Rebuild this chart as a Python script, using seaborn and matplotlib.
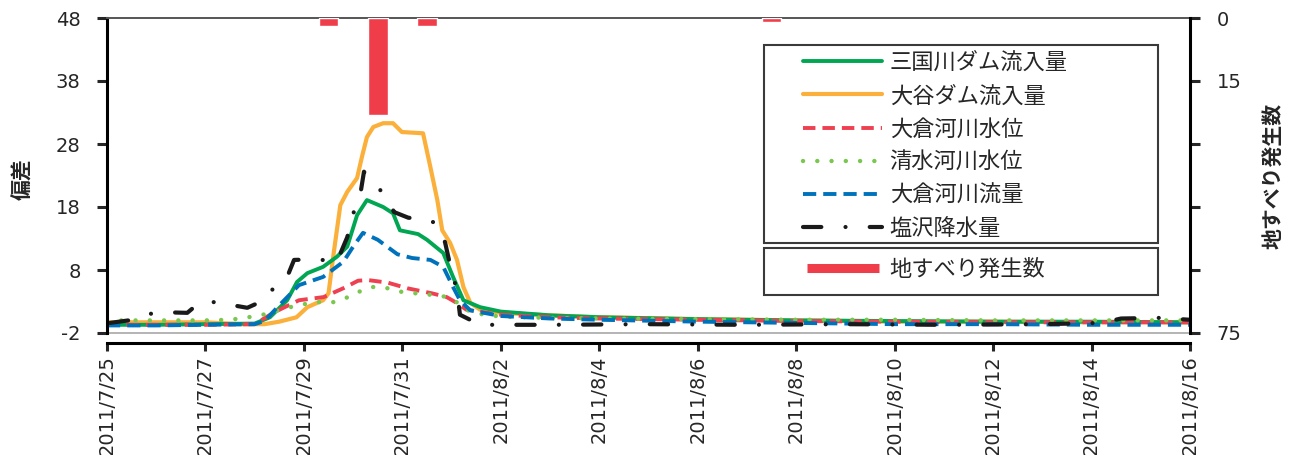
import pandas as pd
import seaborn as sns
import matplotlib.pyplot as plt
from matplotlib.lines import Line2D
from matplotlib.patches import Rectangle

# 期間: 2011/7/25 0:00 起点の経過日数
start = pd.Timestamp('2011-07-25')
n_days = 22

# 三国川ダム流入量 (偏差)
mikuni_days = [0, 1, 2, 3.0, 3.31, 3.66, 3.86, 4.07, 4.39, 4.67, 4.88, 5.08, 5.28, 5.61, 5.81, 5.95,
               6.32, 6.5, 6.83, 7.03, 7.24, 7.58, 8, 9, 10, 12, 14, 16, 18, 20, 22]
mikuni_vals = [-0.7, -0.7, -0.6, -0.5, 0.5, 3.2, 6.1, 7.5, 8.5, 10.1, 11.7, 16.7, 19.1, 18.0, 17.0, 14.3,
               13.7, 12.8, 10.7, 6.9, 3.2, 2.1, 1.4, 0.8, 0.5, 0.2, 0.0, -0.1, -0.2, -0.2, -0.3]

# 大谷ダム流入量
otani_days = [0, 1, 2, 2.7, 3.2, 3.5, 3.85, 4.07, 4.39, 4.5, 4.6, 4.74, 4.88, 5.08, 5.18, 5.28, 5.41,
              5.61, 5.81, 5.99, 6.42, 6.57, 6.71, 6.81, 6.97, 7.11, 7.24, 7.38, 7.58, 8, 9, 10, 12,
              14, 16, 18, 20, 22]
otani_vals = [-0.3, -0.3, -0.3, -0.6, -0.6, -0.2, 0.5, 2.1, 3.2, 4.3, 10.4, 18.3, 20.4, 22.6, 26.0, 29.1,
              30.7, 31.3, 31.3, 29.9, 29.7, 24.3, 19.1, 14.3, 12.3, 9.6, 5.3, 2.8, 1.7, 1.2, 0.8, 0.5,
              0.2, 0.0, -0.2, -0.2, -0.3, -0.3]

# 大倉河川水位
okura_lv_days = [0, 1, 2, 3.0, 3.4, 3.9, 4.4, 4.8, 5.1, 5.3, 5.7, 6.1, 6.6, 6.9, 7.1, 7.3, 8, 9, 10,
                 12, 14, 16, 18, 20, 22]
okura_lv_vals = [-0.7, -0.7, -0.7, -0.6, 1.3, 3.2, 3.7, 5.1, 6.3, 6.4, 6.0, 5.1, 4.3, 3.7, 2.8, 1.7, 0.9,
                 0.5, 0.3, 0.1, -0.1, -0.2, -0.3, -0.3, -0.3]

# 清水河川水位
shimizu_days = [0, 1, 2, 2.5, 2.8, 3.3, 3.6, 4.2, 4.6, 4.9, 5.1, 5.4, 5.7, 6.0, 6.4, 6.8, 7.0, 7.2, 7.4,
                8, 9, 10, 12, 14, 16, 18, 20, 22]
shimizu_vals = [0.0, 0.0, 0.0, 0.1, 0.4, 1.1, 1.9, 2.9, 2.9, 3.7, 4.5, 5.3, 5.1, 4.5, 4.2, 3.9, 3.4, 2.4,
                1.2, 0.6, 0.4, 0.3, 0.2, 0.1, 0.1, 0.0, 0.0, 0.0]

# 大倉河川流量
okura_q_days = [0, 1, 2, 3.0, 3.2, 3.5, 3.9, 4.39, 4.8, 5.0, 5.2, 5.5, 5.9, 6.2, 6.57, 6.83, 7.03, 7.17,
                7.38, 8, 9, 10, 12, 14, 16, 18, 20, 22]
okura_q_vals = [-0.8, -0.8, -0.7, -0.6, -0.1, 2.4, 5.6, 6.9, 9.3, 11.7, 13.9, 12.8, 10.5, 9.9, 9.6, 8.5,
                5.3, 3.2, 1.6, 0.7, 0.3, 0.1, -0.2, -0.4, -0.6, -0.6, -0.7, -0.7]

# 塩沢降水量
shiozawa_days = [0.06, 0.53, 0.73, 1.14, 1.63, 1.89, 2.36, 2.56, 2.85, 3.25, 3.39, 3.66, 3.8, 4.27, 4.67,
                 4.88, 5.02, 5.16, 5.22, 5.49, 5.71, 5.83, 6.12, 6.57, 6.77, 6.87, 6.97, 7.11, 7.17,
                 7.58, 9, 11, 13, 15, 17, 19, 20.2, 20.6, 21.4, 22]
shiozawa_vals = [-0.4, 0.1, 0.9, 1.3, 1.2, 2.9, 2.9, 2.4, 2.0, 3.4, 5.3, 6.9, 9.6, 9.7, 9.3,
                 13.2, 17.4, 20.7, 23.6, 21.3, 19.1, 17.2, 16.3, 15.9, 14.8, 12.3, 8.8, 4.7, 0.9,
                 -0.7, -0.7, -0.6, -0.7, -0.6, -0.7, -0.6, -0.4, 0.3, 0.4, 0.1]

# 地すべり発生数 (日別、正午を中心)
slide_days = [4.5, 5.5, 6.5, 13.5]
slide_counts = [2, 23, 2, 1]

series_names = ['三国川ダム流入量', '大谷ダム流入量', '大倉河川水位', '清水河川水位', '大倉河川流量', '塩沢降水量']
bar_name = '地すべり発生数'
left_ticks = [-2, 8, 18, 28, 38, 48]
right_ticks = [0, 15, 30, 45, 60, 75]
right_labels = ['0', '15', '', '', '', '75']


def to_time(days):
    return start + pd.to_timedelta(days, unit='D')


sns.set_style('white')
plt.rcParams['font.family'] = ['DejaVu Sans', 'Noto Sans CJK JP']
plt.rcParams['axes.unicode_minus'] = False

W, H = 1303, 455
fig = plt.figure(figsize=(W / 100, H / 100), dpi=100)
ax = fig.add_axes([107 / W, 1 - 333 / H, (1190 - 107) / W, (333 - 18) / H])

lw = 2.8
sns.lineplot(x=to_time(otani_days), y=otani_vals, ax=ax, color='#FBB03B', lw=3.0)
sns.lineplot(x=to_time(mikuni_days), y=mikuni_vals, ax=ax, color='#00A651', lw=lw)
sns.lineplot(x=to_time(okura_lv_days), y=okura_lv_vals, ax=ax, color='#EE4050', lw=lw,
             linestyle=(0, (3.2, 1.8)), dash_capstyle='butt')
sns.lineplot(x=to_time(shimizu_days), y=shimizu_vals, ax=ax, color='#7AC74F', lw=3.2,
             linestyle=(0, (0.01, 3.2)), dash_capstyle='round')
sns.lineplot(x=to_time(okura_q_days), y=okura_q_vals, ax=ax, color='#0072BC', lw=lw,
             linestyle=(0, (3.4, 1.8)), dash_capstyle='butt')
sns.lineplot(x=to_time(shiozawa_days), y=shiozawa_vals, ax=ax, color='#1A1A1A', lw=3.0,
             linestyle=(0, (4.4, 5.8, 0.01, 5.8)), dash_capstyle='round')
lines = ax.get_lines()[:6]
order = [1, 0, 2, 3, 4, 5]
handles = [lines[i] for i in order]

ax.axhline(-2, color='#a8a8a8', lw=1.2, clip_on=False, zorder=1)

# 右軸: 地すべり発生数 (反転)
ax2 = ax.twinx()
ax2.bar(to_time(slide_days), slide_counts, width=0.4, color='#EF3E4A', zorder=3)
ax2.set_ylim(75, 0)
ax2.set_yticks(right_ticks)
ax2.set_yticklabels(right_labels)
ax2.tick_params(axis='y', labelsize=14, length=7, width=2.2, direction='out', pad=12, right=True)
ax2.set_ylabel(bar_name, fontsize=15, fontweight='bold', family=['Noto Sans CJK JP'], rotation=90)
ax2.yaxis.set_label_coords(1.067, 0.50)
ax2.spines['right'].set_linewidth(2.2)
ax2.spines['right'].set_color('black')
for side in ['left', 'top', 'bottom']:
    ax2.spines[side].set_visible(False)

# 左軸と日付軸
ax.set_xlim(start, to_time(n_days))
ax.set_ylim(-2, 48)
ax.set_yticks(left_ticks)
ticks = pd.date_range(start, to_time(n_days), freq='2D')
ax.set_xticks(ticks, [f"{t.year}/{t.month}/{t.day}" for t in ticks])
ax.tick_params(axis='y', labelsize=14, length=7, width=2.2, direction='out', pad=12, left=True)
ax.tick_params(axis='x', labelsize=14, labelrotation=90, length=6, width=2.2,
               direction='out', pad=3, bottom=True)
ax.set_xlabel('')
ax.set_ylabel('偏差', fontsize=15, fontweight='bold', family=['Noto Sans CJK JP'])
ax.yaxis.set_label_coords(-0.068, 0.49)

ax.spines['left'].set_linewidth(2.2)
ax.spines['left'].set_color('black')
ax.spines['bottom'].set_position(('outward', 7))
ax.spines['bottom'].set_linewidth(2.2)
ax.spines['bottom'].set_color('black')
ax.spines['top'].set_color('#555555')
ax.spines['top'].set_linewidth(1.4)
ax.spines['right'].set_visible(False)

# 凡例の枠
fig.add_artist(Rectangle((764 / W, 1 - 243 / H), (1158 - 764) / W, (243 - 45) / H,
                         transform=fig.transFigure, facecolor='white', edgecolor='#3a3a3a',
                         lw=1.5, zorder=4))
fig.add_artist(Rectangle((764 / W, 1 - 295 / H), (1158 - 764) / W, (295 - 248) / H,
                         transform=fig.transFigure, facecolor='white', edgecolor='#3a3a3a',
                         lw=1.5, zorder=4))

prop = {'family': ['Noto Sans CJK JP'], 'size': 16}
leg1 = fig.legend(handles, series_names, loc='upper left', bbox_to_anchor=(803 / W, 1 - 51 / H),
                  frameon=False, prop=prop, handlelength=3.55, handletextpad=0.35,
                  labelspacing=0.46, borderpad=0, borderaxespad=0)
leg1.set_zorder(6)
bar_handle = Line2D([], [], color='#EF3E4A', lw=6.5, solid_capstyle='butt')
leg2 = fig.legend([bar_handle], [bar_name], loc='upper left', bbox_to_anchor=(807 / W, 1 - 258 / H),
                  frameon=False, prop=prop, handlelength=3.25, handletextpad=0.45,
                  borderpad=0, borderaxespad=0)
leg2.set_zorder(6)

fig.savefig('out.png', dpi=100)
